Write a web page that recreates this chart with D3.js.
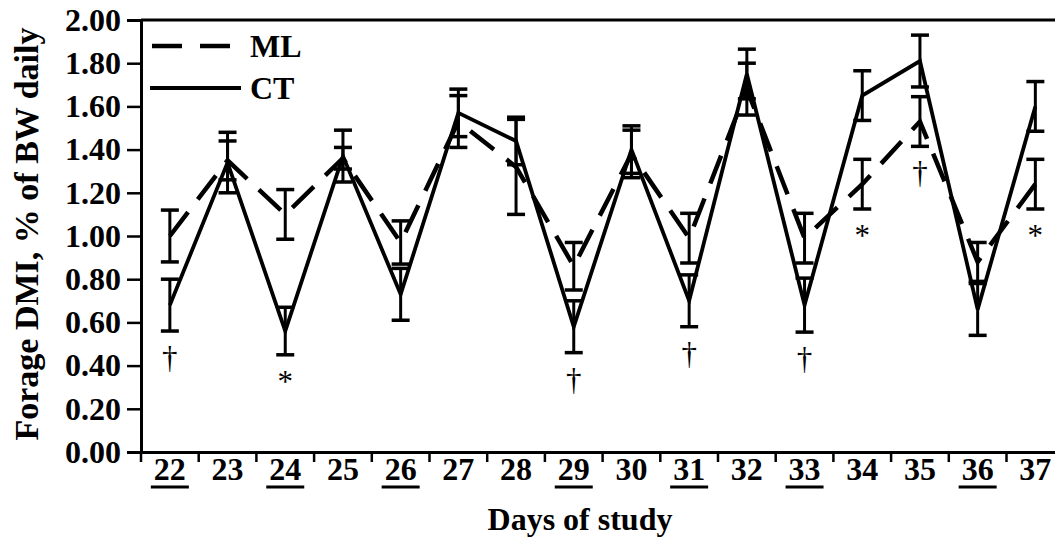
<!DOCTYPE html>
<html lang="en">
<head>
  <meta charset="UTF-8">
  <title>Forage DMI by day of study</title>
  <style>
    body {
      margin: 0;
      padding: 0;
      background: #fff;
    }
  </style>
</head>
<body>
  <svg id="chart" width="1055" height="539"></svg>

  <script src="https://d3js.org/d3.v7.min.js"></script>
  <script>
    // Days of study (x categories); underlined days are marked in the figure
    const days = [22, 23, 24, 25, 26, 27, 28, 29, 30, 31, 32, 33, 34, 35, 36, 37];
    const underlinedDays = [22, 24, 26, 29, 31, 33, 36];

    // CT (solid line) mean and SE
    const ctMean = [0.68, 1.34, 0.56, 1.37, 0.73, 1.57, 1.44, 0.58, 1.40, 0.70, 1.75, 0.68, 1.65, 1.81, 0.66, 1.60];
    const ctSE   = [0.12, 0.14, 0.11, 0.12, 0.12, 0.11, 0.11, 0.12, 0.11, 0.12, 0.115, 0.125, 0.115, 0.12, 0.12, 0.115];

    // ML (dashed line) mean and SE
    const mlMean = [1.00, 1.35, 1.10, 1.36, 0.97, 1.53, 1.32, 0.86, 1.38, 0.99, 1.68, 0.99, 1.24, 1.53, 0.88, 1.24];
    const mlSE   = [0.12, 0.09, 0.115, 0.05, 0.10, 0.12, 0.22, 0.11, 0.11, 0.115, 0.12, 0.115, 0.115, 0.115, 0.09, 0.115];

    // significance marks below the bars
    const sigDays  = [22, 24, 29, 31, 33, 34, 35, 37];
    const sigMarks = ["†", "*", "†", "†", "†", "*", "†", "*"];

    const yTicks = [0, 0.2, 0.4, 0.6, 0.8, 1.0, 1.2, 1.4, 1.6, 1.8, 2.0];

    const FONT = "'Liberation Serif', 'Times New Roman', serif";

    const svg = d3.select("#chart");
    const plotLeft = 141, plotTop = 20, plotBottom = 452;
    const bandW = 57.7;

    const x = d3.scaleBand()
      .domain(days)
      .range([plotLeft, plotLeft + bandW * days.length])
      .padding(0);

    const y = d3.scaleLinear()
      .domain([0, 2])
      .range([plotBottom, plotTop]);

    const cx = d => x(d) + x.bandwidth() / 2;

    // frame top line
    svg.append("line")
      .attr("x1", plotLeft).attr("x2", x.range()[1])
      .attr("y1", plotTop).attr("y2", plotTop)
      .attr("stroke", "#000").attr("stroke-width", 3);

    // y axis
    const yAxis = svg.append("g")
      .attr("transform", `translate(${plotLeft},0)`)
      .call(d3.axisLeft(y)
        .tickValues(yTicks)
        .tickFormat(d3.format(".2f"))
        .tickSize(14)
        .tickPadding(6));
    yAxis.attr("font-family", FONT).attr("font-size", 32);
    yAxis.select(".domain").attr("stroke-width", 3);
    yAxis.selectAll(".tick line").attr("stroke-width", 2.5);
    yAxis.selectAll("text")
      .style("font-family", FONT)
      .style("font-size", "32px")
      .style("font-weight", "bold");

    // x axis: labels at band centres, ticks at band edges
    const xAxis = svg.append("g")
      .attr("transform", `translate(0,${plotBottom})`)
      .call(d3.axisBottom(x).tickSize(0).tickPadding(5));
    xAxis.attr("font-family", FONT).attr("font-size", 32);
    xAxis.select(".domain").attr("stroke-width", 3);
    xAxis.selectAll("text")
      .style("font-family", FONT)
      .style("font-size", "32px")
      .style("font-weight", "bold");

    svg.append("g").selectAll("line")
      .data(days)
      .join("line")
      .attr("x1", d => x(d)).attr("x2", d => x(d))
      .attr("y1", plotBottom).attr("y2", plotBottom + 10)
      .attr("stroke", "#000").attr("stroke-width", 2.5);

    // underlines under the marked days
    svg.append("g").selectAll("line")
      .data(underlinedDays)
      .join("line")
      .attr("x1", d => cx(d) - 19).attr("x2", d => cx(d) + 19)
      .attr("y1", 487).attr("y2", 487)
      .attr("stroke", "#000").attr("stroke-width", 3);

    // axis titles
    svg.append("text")
      .attr("x", 580).attr("y", 530)
      .attr("text-anchor", "middle")
      .style("font-family", FONT)
      .style("font-size", "32px").style("font-weight", "bold")
      .text("Days of study");

    svg.append("text")
      .attr("transform", "translate(38,234) rotate(-90)")
      .attr("text-anchor", "middle")
      .style("font-family", FONT)
      .style("font-size", "34px").style("font-weight", "bold")
      .text("Forage DMI, % of BW daily");

    // error bars
    function errorBars(mean, se) {
      const g = svg.append("g").attr("stroke", "#000");
      days.forEach((d, i) => {
        const hi = y(mean[i] + se[i]), lo = y(mean[i] - se[i]);
        g.append("line")
          .attr("x1", cx(d)).attr("x2", cx(d))
          .attr("y1", hi).attr("y2", lo)
          .attr("stroke-width", 3);
        [hi, lo].forEach(v => {
          g.append("line")
            .attr("x1", cx(d) - 9).attr("x2", cx(d) + 9)
            .attr("y1", v).attr("y2", v)
            .attr("stroke-width", 3.5);
        });
      });
    }
    errorBars(mlMean, mlSE);
    errorBars(ctMean, ctSE);

    const line = d3.line().x(d => cx(d[0])).y(d => y(d[1]));

    svg.append("path")
      .datum(days.map((d, i) => [d, mlMean[i]]))
      .attr("d", line)
      .attr("fill", "none").attr("stroke", "#000")
      .attr("stroke-width", 4.5)
      .attr("stroke-dasharray", "30,16");

    svg.append("path")
      .datum(days.map((d, i) => [d, ctMean[i]]))
      .attr("d", line)
      .attr("fill", "none").attr("stroke", "#000")
      .attr("stroke-width", 3.8);

    // significance marks, placed under the lowest error bar of the day
    svg.append("g").selectAll("text")
      .data(sigDays)
      .join("text")
      .attr("x", d => cx(d))
      .attr("y", d => {
        const i = days.indexOf(d);
        const low = Math.min(ctMean[i] - ctSE[i], mlMean[i] - mlSE[i]);
        return y(low) + 37;
      })
      .attr("text-anchor", "middle")
      .style("font-family", FONT)
      .style("font-size", "31px")
      .text((d, i) => sigMarks[i]);

    // legend
    const legend = svg.append("g");
    legend.append("line")
      .attr("x1", 152).attr("x2", 230).attr("y1", 46).attr("y2", 46)
      .attr("stroke", "#000").attr("stroke-width", 4.5)
      .attr("stroke-dasharray", "30,18");
    legend.append("line")
      .attr("x1", 150).attr("x2", 241).attr("y1", 88).attr("y2", 88)
      .attr("stroke", "#000").attr("stroke-width", 3.8);
    legend.append("text")
      .attr("x", 250).attr("y", 57)
      .style("font-family", FONT)
      .style("font-size", "32px").style("font-weight", "bold")
      .text("ML");
    legend.append("text")
      .attr("x", 250).attr("y", 99)
      .style("font-family", FONT)
      .style("font-size", "32px").style("font-weight", "bold")
      .text("CT");
  </script>
</body>
</html>
